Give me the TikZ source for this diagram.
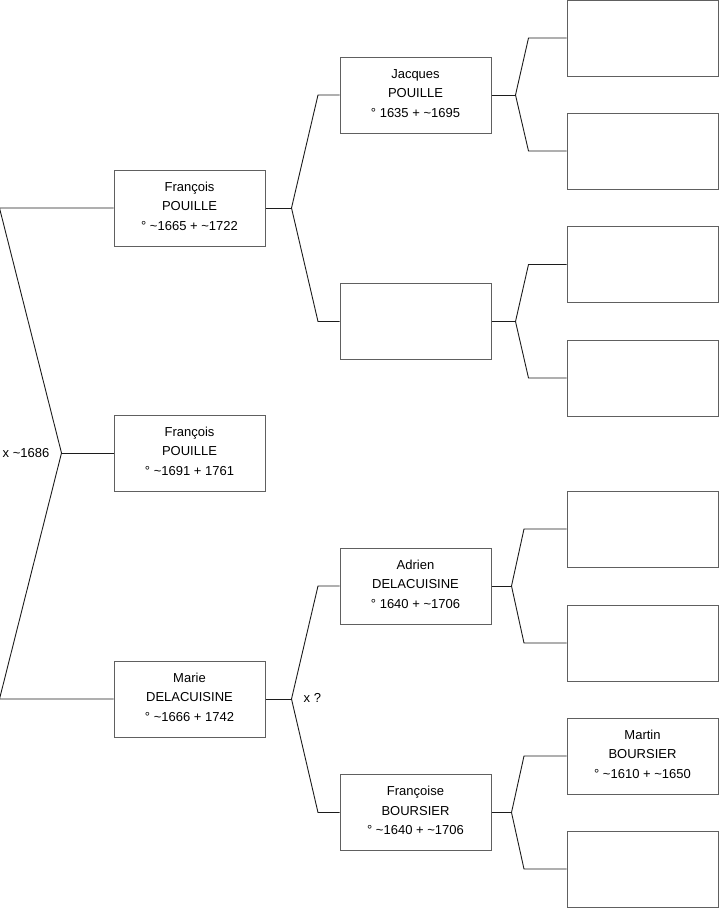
\documentclass[tikz,border=0pt]{standalone}
\usepackage{fontspec}
\setmainfont{Liberation Sans}
\usetikzlibrary{positioning}
\definecolor{boxgray}{RGB}{96,96,96}
\definecolor{inkblack}{RGB}{28,28,28}
\tikzset{
  person/.style={draw=boxgray,line width=1pt,minimum width=151pt,
    minimum height=76pt,align=center,inner sep=2pt,text depth=3.5pt,
    font=\fontsize{13}{19.5}\selectfont},
  blank/.style={person},
  link/.style={draw=inkblack,line width=0.9pt},
  marriage/.style={font=\fontsize{13}{15}\selectfont,inner sep=0pt}
}
\newcommand{\ca}{\textasciitilde}

\begin{document}
\begin{tikzpicture}[x=1pt,y=-1pt]
  \useasboundingbox (0,0) rectangle (719,908);
  % generation 1
  \node[person] (fp) at (189.5,208) {François\\POUILLE\\° \ca1665 + \ca1722};
  \node[person] (fs) at (189.5,453) {François\\POUILLE\\° \ca1691 + 1761};
  \node[person] (md) at (189.5,699) {Marie\\DELACUISINE\\° \ca1666 + 1742};
  % generation 2
  \node[person] (jp) at (415.5,95) {Jacques\\POUILLE\\° 1635 + \ca1695};
  \node[blank] (px) at (415.5,321.5) {};
  \node[person] (ad) at (415.5,586) {Adrien\\DELACUISINE\\° 1640 + \ca1706};
  \node[person] (fb) at (415.5,812.5) {Françoise\\BOURSIER\\° \ca1640 + \ca1706};
  % generation 3
  \foreach \n/\y in {ga/38,gb/151,gc/264.5,gd/378,ge/529,gf/643,gh/869}
    \node[blank] (\n) at (642.5,\y) {};
  \node[person] (mb) at (642.5,756) {Martin\\BOURSIER\\° \ca1610 + \ca1650};

  % forks
  \coordinate (k0) at ([xshift=-52pt]fs.west);
  \node[marriage,left=12pt of k0] (m0) {x \ca1686};
  \draw[link] (fp.west) -- ([xshift=-114pt]fp.west) -- (k0)
    -- ([xshift=-114pt]md.west) -- (md.west);
  \draw[link] (k0) -- (fs.west);

  \foreach \p/\a/\b in {fp/jp/px,md/ad/fb} {
    \coordinate (k\p) at ([xshift=26pt]\p.east);
    \draw[link] (\p.east) -- (k\p);
    \draw[link] (k\p) -- ([xshift=-21.5pt]\a.west) -- (\a.west);
    \draw[link] (k\p) -- ([xshift=-21.5pt]\b.west) -- (\b.west);
  }
  \node[marriage,right=12pt of kmd,yshift=1pt] (m1) {x ?};

  \foreach \p/\a/\b/\f/\c in {jp/ga/gb/24/38,px/gc/gd/24/38,
      ad/ge/gf/20/42.5,fb/mb/gh/20/42.5} {
    \coordinate (k\p) at ([xshift=\f pt]\p.east);
    \draw[link] (\p.east) -- (k\p);
    \draw[link] (k\p) -- ([xshift=-\c pt]\a.west) -- (\a.west);
    \draw[link] (k\p) -- ([xshift=-\c pt]\b.west) -- (\b.west);
  }
\end{tikzpicture}
\end{document}
